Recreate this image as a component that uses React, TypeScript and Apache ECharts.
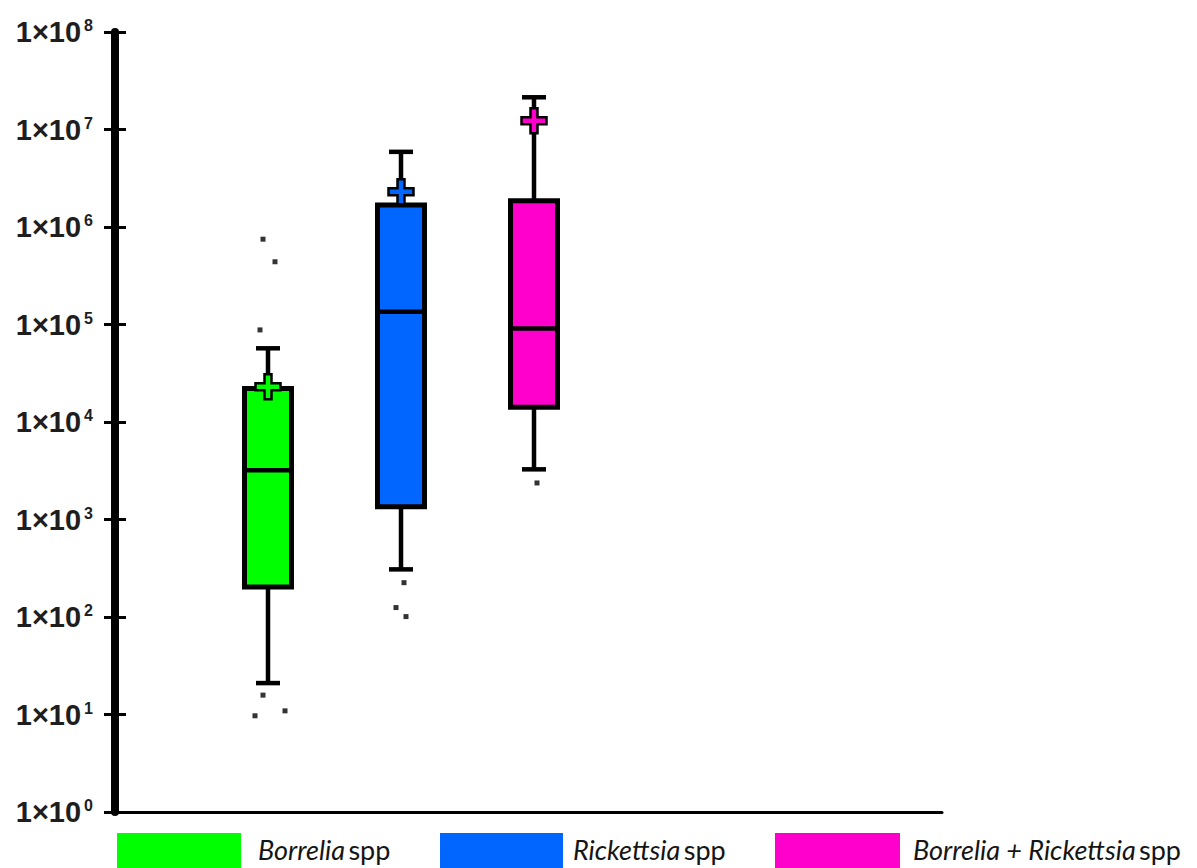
import React, { useEffect, useRef } from "react";
import * as echarts from "echarts";

// ---- data ----
const groups = ["Borrelia spp", "Rickettsia spp", "Borrelia + Rickettsia spp"];
const groupItalic = ["Borrelia", "Rickettsia", "Borrelia + Rickettsia"];
const groupColors = ["#00ff00", "#0066ff", "#ff00cc"];

// [lower whisker, Q1, median, Q3, upper whisker, mean]
const borreliaStats = [21, 203, 3200, 22000, 57000, 23000];
const rickettsiaStats = [308, 1350, 135000, 1680000, 5900000, 2300000];
const bothStats = [3270, 14200, 91000, 1860000, 21400000, 12300000];

const borreliaOutliers = [750000, 440000, 88000, 15.8, 9.7, 10.9];
const rickettsiaOutliers = [225, 125, 101];
const bothOutliers = [2370];

const yExponents = [0, 1, 2, 3, 4, 5, 6, 7, 8];

// ---- styling (pixel offsets only, no data) ----
const outlierShift = [
  [-5, 7, -8, -5, -13, 17],
  [3, -5, 5],
  [3],
];

const allStats = [borreliaStats, rickettsiaStats, bothStats];
const allOutliers = [borreliaOutliers, rickettsiaOutliers, bothOutliers];

const FONT_AX = "'Liberation Sans', Arial, sans-serif";
const FONT_LEG = "Lato, 'Open Sans', sans-serif";

const yMin = Math.pow(10, yExponents[0]);
const yMax = Math.pow(10, yExponents[yExponents.length - 1]);

const plusShape = (h: number, t: number) => [
  [-t, -h], [t, -h], [t, -t], [h, -t], [h, t], [t, t],
  [t, h], [-t, h], [-t, t], [-h, t], [-h, -t], [-t, -t],
];

function makeRender(color: string) {
  return (params: any, api: any) => {
    const i = api.value(0);
    const pMin = api.coord([i, api.value(1)]);
    const pQ1 = api.coord([i, api.value(2)]);
    const pMed = api.coord([i, api.value(3)]);
    const pQ3 = api.coord([i, api.value(4)]);
    const pMax = api.coord([i, api.value(5)]);
    const pMean = api.coord([i, api.value(6)]);
    const cx = pMed[0];
    const bw = 47;
    const cw = 24;
    const ln = (x1: number, y1: number, x2: number, y2: number) => ({
      type: "line",
      shape: { x1, y1, x2, y2 },
      style: { stroke: "#000", lineWidth: 4.5 },
    });
    return {
      type: "group",
      children: [
        ln(cx, pMax[1], cx, pQ3[1]),
        ln(cx, pQ1[1], cx, pMin[1]),
        ln(cx - cw / 2, pMax[1], cx + cw / 2, pMax[1]),
        ln(cx - cw / 2, pMin[1], cx + cw / 2, pMin[1]),
        {
          type: "rect",
          shape: { x: cx - bw / 2, y: pQ3[1], width: bw, height: pQ1[1] - pQ3[1] },
          style: { fill: color, stroke: "#000", lineWidth: 5 },
        },
        ln(cx - bw / 2, pMed[1], cx + bw / 2, pMed[1]),
        {
          type: "polygon",
          shape: {
            points: plusShape(12.5, 3.5).map(([dx, dy]) => [pMean[0] + dx, pMean[1] + dy]),
          },
          style: { fill: color, stroke: "#000", lineWidth: 2.5 },
        },
      ],
    };
  };
}

const legendPos = [
  { left: 117, width: 124, pad: 12 },
  { left: 440, width: 123, pad: 5 },
  { left: 775, width: 125, pad: 8 },
];

export default function App() {
  const ref = useRef<HTMLDivElement>(null);

  useEffect(() => {
    if (!ref.current) return;
    const chart = echarts.init(ref.current, null, { renderer: "svg" });

    const boxSeries = groups.map((g, i) => {
      const s = allStats[i];
      return {
        type: "custom",
        name: g,
        xAxisIndex: 1,
        yAxisIndex: 2,
        itemStyle: { color: groupColors[i] },
        encode: { x: 0, y: [1, 2, 3, 4, 5, 6] },
        renderItem: makeRender(groupColors[i]),
        data: [[i, s[0], s[1], s[2], s[3], s[4], s[5]]],
        z: 3,
      };
    });

    const outlierSeries = groups.map((g, i) => ({
      type: "scatter",
      name: g + " outliers",
      xAxisIndex: 1,
      yAxisIndex: 2,
      symbol: "rect",
      symbolSize: 5,
      itemStyle: { color: "#000" },
      data: allOutliers[i].map((v, k) => ({
        value: [i, v],
        symbolOffset: [outlierShift[i][k] || 0, 0],
      })),
      z: 4,
    }));

    const labelRich = {
      a: { fontFamily: FONT_AX, fontWeight: "bold", fontSize: 29, color: "#1e1e1e" },
      b: {
        fontFamily: FONT_AX,
        fontWeight: "bold",
        fontSize: 16,
        color: "#1e1e1e",
        verticalAlign: "top",
        padding: [0, 0, 0, 3],
      },
    };

    const option: any = {
      animation: false,
      backgroundColor: "#fff",
      grid: [
        { left: 115, right: 255, top: 32, bottom: 56 },
        { left: 201.5, right: 596.5, top: 32, bottom: 56 },
      ],
      xAxis: [
        {
          gridIndex: 0,
          type: "category",
          data: [""],
          axisLine: { show: true, onZero: false, lineStyle: { color: "#000", width: 3 } },
          axisTick: { show: false },
          axisLabel: { show: false },
          splitLine: { show: false },
        },
        {
          gridIndex: 1,
          type: "category",
          data: groups,
          show: false,
        },
      ],
      yAxis: [
        {
          gridIndex: 0,
          type: "log",
          logBase: 10,
          min: yMin,
          max: yMax,
          interval: 1,
          splitNumber: 8,
          position: "left",
          axisLine: { show: true, lineStyle: { color: "#000", width: 8 } },
          axisTick: { show: true, inside: false, length: 11, lineStyle: { color: "#000", width: 3 } },
          axisLabel: {
            margin: 22,
            formatter: (v: number) => `{a|1×10}{b|${Math.round(Math.log10(v))}}`,
            rich: labelRich,
          },
          splitLine: { show: false },
          minorTick: { show: false },
        },
        {
          gridIndex: 0,
          type: "log",
          logBase: 10,
          min: yMin,
          max: yMax,
          interval: 1,
          splitNumber: 8,
          position: "left",
          axisLine: { show: false },
          axisTick: { show: true, inside: true, length: 11, lineStyle: { color: "#000", width: 3 } },
          axisLabel: { show: false },
          splitLine: { show: false },
        },
        {
          gridIndex: 1,
          type: "log",
          logBase: 10,
          min: yMin,
          max: yMax,
          interval: 1,
          show: false,
          splitLine: { show: false },
        },
      ],
      legend: groups.map((g, i) => ({
        show: true,
        selectedMode: false,
        left: legendPos[i].left,
        top: 833,
        padding: 0,
        itemWidth: legendPos[i].width,
        itemHeight: 40,
        itemGap: 0,
        icon: "rect",
        itemStyle: { borderWidth: 0 },
        data: [{ name: g, icon: "rect", itemStyle: { color: groupColors[i], borderWidth: 0 } }],
        formatter: () => `{i|${groupItalic[i]}} {n|spp}`,
        textStyle: {
          padding: [0, 0, 8, legendPos[i].pad],
          rich: {
            i: { fontFamily: FONT_LEG, fontStyle: "italic", fontSize: 27, lineHeight: 30, color: "#151515" },
            n: { fontFamily: FONT_LEG, fontSize: 27, lineHeight: 30, color: "#151515" },
          },
        },
      })),
      series: [...boxSeries, ...outlierSeries],
    };

    chart.setOption(option);
    return () => chart.dispose();
  }, []);

  return (
    <div
      ref={ref}
      style={{ position: "fixed", left: 0, top: 0, width: 1197, height: 868, background: "#fff" }}
    />
  );
}
